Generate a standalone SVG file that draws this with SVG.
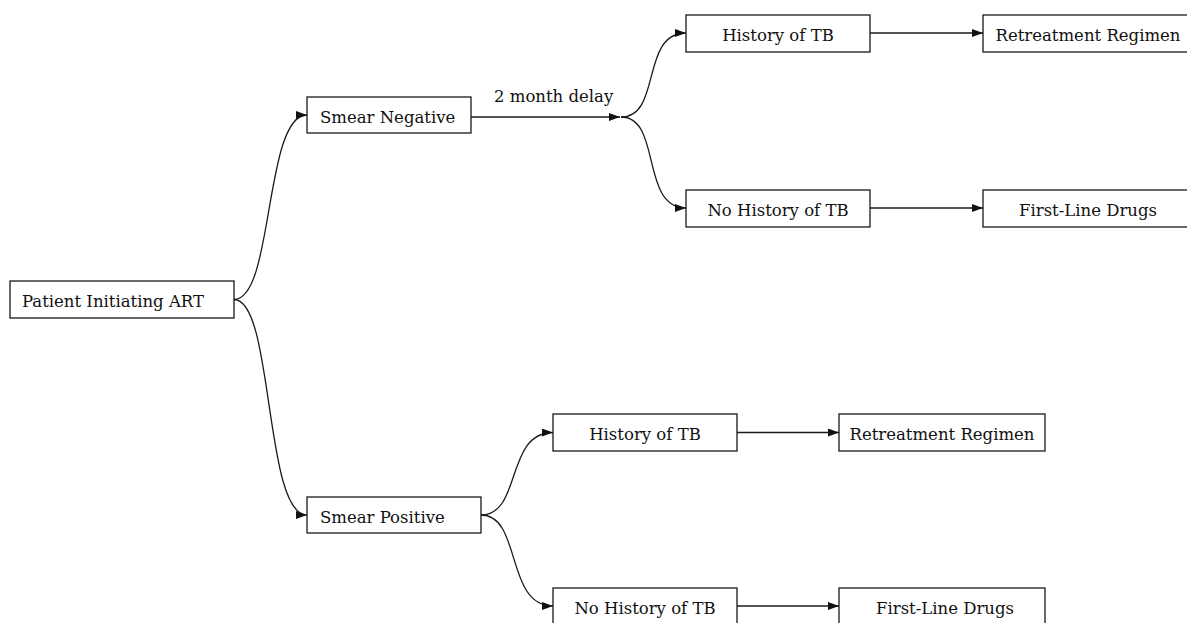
<svg xmlns="http://www.w3.org/2000/svg" width="1187" height="623" viewBox="0 0 1187 623">
<style>
.box{fill:#fff;stroke:#1a1a1a;stroke-width:1.3}
.t{font-family:"DejaVu Serif","Liberation Serif",serif;font-size:16.5px;fill:#111}
.c{text-anchor:middle}
.e{fill:none;stroke:#1a1a1a;stroke-width:1.3;marker-end:url(#ah)}
</style>
<defs>
<marker id="ah" viewBox="0 0 11 8" refX="11" refY="4" markerWidth="11" markerHeight="8" markerUnits="userSpaceOnUse" orient="auto">
<path d="M0,0 L11,4 L0,8 Z" fill="#111"/>
</marker>
</defs>
<rect width="1187" height="623" fill="#fff"/>
<g id="connectors">
<path class="e" d="M234,299.5 C274,299.5 264,115 307,115"/>
<path class="e" d="M234,299.5 C274,299.5 264,515 307,515"/>
<path class="e" d="M471,117 L620,117"/>
<path class="e" d="M621,117 C662,117 640,33 686,33"/>
<path class="e" d="M621,117 C662,117 640,208 686,208"/>
<path class="e" d="M870,33 L983,33"/>
<path class="e" d="M870,208 L983,208"/>
<path class="e" d="M481,515 C522,515 505,432.5 553,432.5"/>
<path class="e" d="M481,515 C522,515 505,606 553,606"/>
<path class="e" d="M737,432.5 L839,432.5"/>
<path class="e" d="M737,606 L839,606"/>
<text class="t" x="494" y="102">2 month delay</text>
</g>
<g id="patient"><rect class="box" x="10" y="281" width="224" height="37"/><text class="t" x="22" y="307">Patient Initiating ART</text></g>
<g id="smear-neg"><rect class="box" x="307" y="97" width="164" height="36"/><text class="t" x="320" y="122.5">Smear Negative</text></g>
<g id="smear-pos"><rect class="box" x="307" y="497" width="174" height="36"/><text class="t" x="320" y="522.5">Smear Positive</text></g>
<g id="hist-top"><rect class="box" x="686" y="15" width="184" height="37"/><text class="t c" x="778" y="40.5">History of TB</text></g>
<g id="nohist-top"><rect class="box" x="686" y="190" width="184" height="37"/><text class="t c" x="778" y="215.5">No History of TB</text></g>
<g id="retreat-top"><rect class="box" x="983" y="15" width="206" height="37"/><text class="t c" x="1088" y="40.5">Retreatment Regimen</text></g>
<g id="first-top"><rect class="box" x="983" y="190" width="206" height="37"/><text class="t c" x="1088" y="215.5">First-Line Drugs</text></g>
<g id="hist-bot"><rect class="box" x="553" y="414" width="184" height="37"/><text class="t c" x="645" y="439.5">History of TB</text></g>
<g id="nohist-bot"><rect class="box" x="553" y="588" width="184" height="37"/><text class="t c" x="645" y="613.5">No History of TB</text></g>
<g id="retreat-bot"><rect class="box" x="839" y="414" width="206" height="37"/><text class="t c" x="942" y="439.5">Retreatment Regimen</text></g>
<g id="first-bot"><rect class="box" x="839" y="588" width="206" height="37"/><text class="t c" x="945" y="613.5">First-Line Drugs</text></g>
</svg>
